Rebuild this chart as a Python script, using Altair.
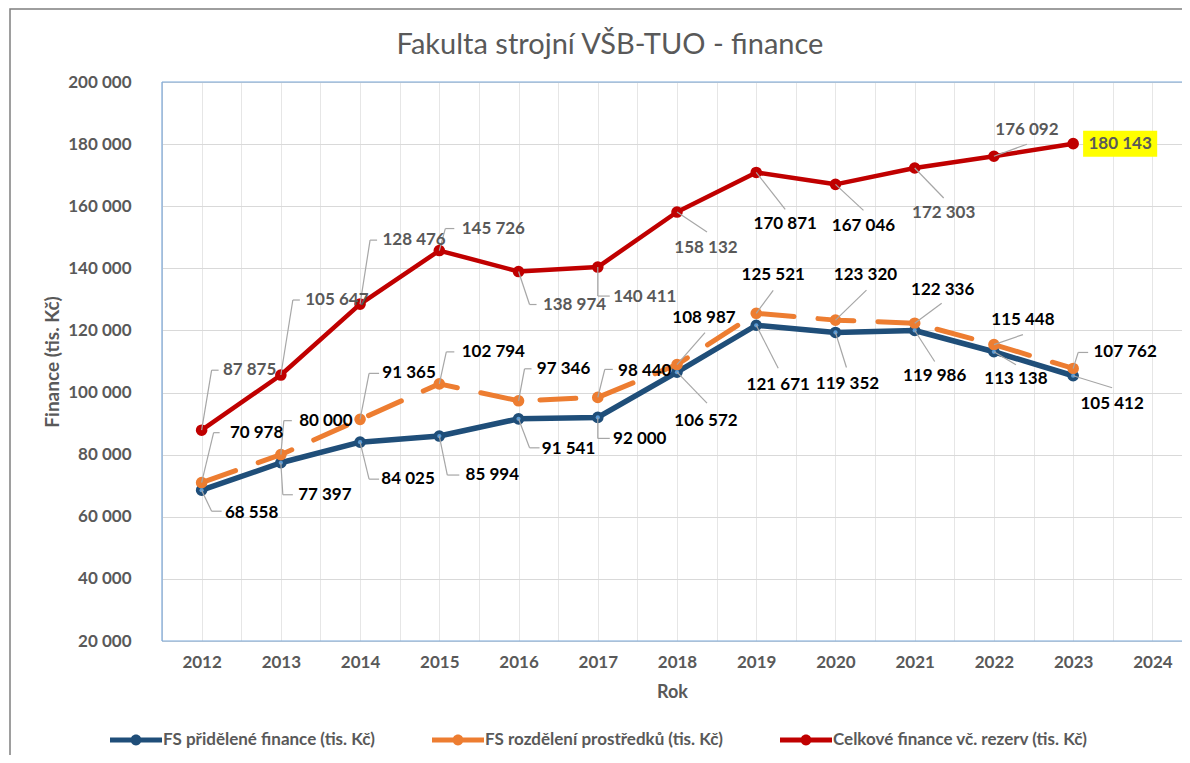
import altair as alt
import pandas as pd

# ---------------- data ----------------
years = [2012, 2013, 2014, 2015, 2016, 2017, 2018, 2019, 2020, 2021, 2022, 2023]
x_ticks = [2012, 2013, 2014, 2015, 2016, 2017, 2018, 2019, 2020, 2021, 2022, 2023, 2024]
y_ticks = [20000, 40000, 60000, 80000, 100000, 120000, 140000, 160000, 180000, 200000]

series_names = [
    "FS přidělené finance (tis. Kč)",
    "FS rozdělení prostředků (tis. Kč)",
    "Celkové finance vč. rezerv (tis. Kč)",
]
pridelene = [68558, 77397, 84025, 85994, 91541, 92000, 106572, 121671, 119352, 119986, 113138, 105412]
rozdeleni = [70978, 80000, 91365, 102794, 97346, 98440, 108987, 125521, 123320, 122336, 115448, 107762]
celkove = [87875, 105647, 128476, 145726, 138974, 140411, 158132, 170871, 167046, 172303, 176092, 180143]

title_text = "Fakulta strojní VŠB-TUO - finance"
x_title = "Rok"
y_title = "Finance (tis. Kč)"

# ---------------- styling ----------------
colors = ["#1f4e79", "#ed7d31", "#c00000"]
FONT = "Lato"
PX_PER_YEAR = 1030 / 13.0
W, H = 1020, 559
X_DOM = [2011.5, 2011.5 + W / PX_PER_YEAR]
Y_DOM = [20000, 200000]
VAL_PER_PX = (Y_DOM[1] - Y_DOM[0]) / H

# label placement offsets in pixels: (label dx, dy, elbow dx, dy, tail dx, dy)
blue_off = [
    (50, 23, 10, 21, 20, 21), (44, 32, 2, 32, 12, 32), (48, 37, 9, 37, 19, 37),
    (53, 39, 8, 39, 20, 39), (50, 30, 11, 29, 21, 29), (42, 22, 0, 21, 12, 21),
    (29, 49, 30, 31, 30, 31), (22, 60, 22, 43, 22, 43), (12, 52, 11, 35, 11, 35),
    (20, 46, 20, 31, 20, 31), (22, 27, 22, 13, 22, 13), (39, 28, 39, 12, 39, 12),
]
orange_off = [
    (55, -50, 12, -50, 18, -50), (45, -34, 3, -34, 11, -34), (49, -46, 9, -46, 19, -46),
    (54, -32, 7, -32, 15, -32), (45, -32, 6, -32, 13, -32), (47, -26, 7, -28, 15, -28),
    (27, -47, 28, -32, 28, -32), (17, -38, 17, -23, 17, -23), (30, -45, 31, -30, 31, -30),
    (28, -33, 27, -20, 27, -20), (29, -25, 29, -10, 29, -10), (52, -16, 5, -16, 15, -16),
]
red_off = [
    (48, -60, 10, -60, 17, -60), (56, -75, 12, -75, 19, -75), (54, -64, 10, -64, 17, -64),
    (54, -22, 6, -22, 15, -22), (56, 33, 11, 33, 18, 33), (47, 30, 0, 29, 12, 29),
    (29, 36, 30, 20, 30, 20), (29, 52, 29, 37, 29, 37), (28, 42, 28, 26, 28, 26),
    (29, 45, 29, 30, 29, 30), (33, -26, 33, -12, 33, -12), (47, 0, 0, 0, 0, 0),
]
label_colors = [
    ["#000000"] * 12,
    ["#000000"] * 12,
    ["#595959"] * 7 + ["#000000", "#000000"] + ["#595959"] * 3,
]
highlight = [(2, 11)]  # (series index, point index) with yellow background

rows = []
for si, (vals, offs) in enumerate(zip([pridelene, rozdeleni, celkove], [blue_off, orange_off, red_off])):
    for pi, (yr, v, o) in enumerate(zip(years, vals, offs)):
        lx, ly, ex, ey, tx, ty = o
        rows.append({
            "year": yr, "value": v, "series": series_names[si], "order": si,
            "text": f"{v:,}".replace(",", " "),
            "lab_x": yr + lx / PX_PER_YEAR, "lab_y": v - ly * VAL_PER_PX,
            "e_x": yr + ex / PX_PER_YEAR, "e_y": v - ey * VAL_PER_PX,
            "t_x": yr + tx / PX_PER_YEAR, "t_y": v - ty * VAL_PER_PX,
            "leader": int(not (ex == 0 and ey == 0)),
            "tail": int((tx, ty) != (ex, ey)),
            "lab_color": label_colors[si][pi],
            "hl": int((si, pi) in highlight),
        })
df = pd.DataFrame(rows)

xs = alt.Scale(domain=X_DOM, nice=False, zero=False)
ys = alt.Scale(domain=Y_DOM, nice=False, zero=False)

grid_x = sorted(x_ticks + [t + 0.5 for t in x_ticks[:-1]])

X = alt.X("year:Q", scale=xs, axis=alt.Axis(
    values=grid_x, labelExpr="datum.value % 1 === 0 ? format(datum.value, 'd') : ''",
    title=x_title, ticks=False, domain=False, gridColor="#e6e6e6", labelPadding=13,
    titlePadding=13, labelFontSize=17, labelFontWeight="bold", titleFontSize=18,
    titleFontWeight="bold", labelColor="#595959", titleColor="#595959",
))
Y = alt.Y("value:Q", scale=ys, axis=alt.Axis(
    values=y_ticks, labelExpr="replace(format(datum.value, ','), ',', ' ')",
    title=y_title, ticks=False, domain=False, gridColor="#d9d9d9", labelPadding=31,
    titlePadding=5, labelFontSize=17, labelFontWeight="bold", titleFontSize=19,
    titleFontWeight="bold", labelColor="#595959", titleColor="#595959",
))

base = alt.Chart(df)
one = alt.Chart(pd.DataFrame({"t": [title_text]}))

BLUE_EDGE = "#7ba7d7"
edge_left = one.mark_rule(color=BLUE_EDGE, strokeWidth=1.2).encode(
    x=alt.value(0), y=alt.value(0), y2=alt.value(H))
edge_top = one.mark_rule(color=BLUE_EDGE, strokeWidth=1.2).encode(
    x=alt.value(0), x2=alt.value(W), y=alt.value(0))
edge_bottom = one.mark_rule(color=BLUE_EDGE, strokeWidth=1.2).encode(
    x=alt.value(0), x2=alt.value(W), y=alt.value(H))
frame = one.mark_rect(fill=None, stroke="#7f7f7f", strokeWidth=1.5).encode(
    x=alt.value(-152), x2=alt.value(W + 40), y=alt.value(-73), y2=alt.value(H + 200))

line_layers = []
widths = [5.5, 5, 4.5]
for si, name in enumerate(series_names):
    kw = dict(color=colors[si], strokeWidth=widths[si], strokeCap="round", strokeJoin="round")
    if si == 1:
        kw["strokeDash"] = [36, 24]
    line_layers.append(
        base.transform_filter(alt.datum.order == si).mark_line(**kw).encode(x=X, y=Y)
    )

legend_path = ("M-1,-0.1L1,-0.1L1,0.1L-1,0.1Z "
               "M0.21,0A0.21,0.21 0 1,1 -0.21,0A0.21,0.21 0 1,1 0.21,0Z")
points = base.mark_point(filled=True, opacity=1, strokeWidth=0, size=135).encode(
    x=alt.X("year:Q", scale=xs),
    y=alt.Y("value:Q", scale=ys),
    color=alt.Color("series:N", scale=alt.Scale(domain=series_names, range=colors),
                    sort=series_names,
                    legend=alt.Legend(
                        title=None, orient="none", direction="horizontal",
                        legendX=-52, legendY=632, symbolType=legend_path,
                        symbolSize=2704, symbolStrokeWidth=0, labelFont=FONT,
                        labelFontSize=17, labelFontWeight="bold", labelColor="#595959",
                        labelOffset=1, columnPadding=57, padding=0, symbolOpacity=1,
                        labelLimit=500,
                    )),
)
inner = base.transform_filter(alt.datum.order == 0).mark_point(
    filled=True, color="#5b9bd5", size=18, opacity=1).encode(
    x=alt.X("year:Q", scale=xs), y=alt.Y("value:Q", scale=ys))

lead1 = base.transform_filter(alt.datum.leader == 1).mark_rule(
    color="#a6a6a6", strokeWidth=1.2).encode(
    x=alt.X("year:Q", scale=xs), y=alt.Y("value:Q", scale=ys), x2="e_x:Q", y2="e_y:Q")
lead2 = base.transform_filter(alt.datum.tail == 1).mark_rule(
    color="#a6a6a6", strokeWidth=1.2).encode(
    x=alt.X("e_x:Q", scale=xs), y=alt.Y("e_y:Q", scale=ys), x2="t_x:Q", y2="t_y:Q")

hl_path = "M-1.4,-0.49L1.4,-0.49L1.4,0.49L-1.4,0.49Z"
hl_box = base.transform_filter(alt.datum.hl == 1).mark_point(
    shape=hl_path, filled=True, color="#ffff00", size=2800, opacity=1, strokeWidth=0).encode(
    x=alt.X("lab_x:Q", scale=xs), y=alt.Y("lab_y:Q", scale=ys))

labels = base.mark_text(font=FONT, fontSize=17, fontWeight="bold", baseline="middle",
                        align="center").encode(
    x=alt.X("lab_x:Q", scale=xs), y=alt.Y("lab_y:Q", scale=ys),
    text="text:N", color=alt.Color("lab_color:N", scale=None))

title = one.mark_text(font=FONT, fontSize=29, color="#595959", baseline="middle",
                      align="center").encode(
    x=alt.value(448), y=alt.value(-37), text="t:N")

axes_layer = base.mark_point(opacity=0).encode(x=X, y=Y)

chart = alt.layer(
    axes_layer, edge_left, edge_top, edge_bottom, frame, *line_layers, points, inner,
    lead1, lead2, hl_box, labels, title
).properties(
    width=W, height=H, autosize=alt.AutoSizeParams(type="none"),
    padding={"left": 154, "top": 74, "right": 0, "bottom": 114},
).configure_view(stroke=None).configure(font=FONT)

chart.save("out.html", embed_options={"renderer": "svg", "actions": False})
